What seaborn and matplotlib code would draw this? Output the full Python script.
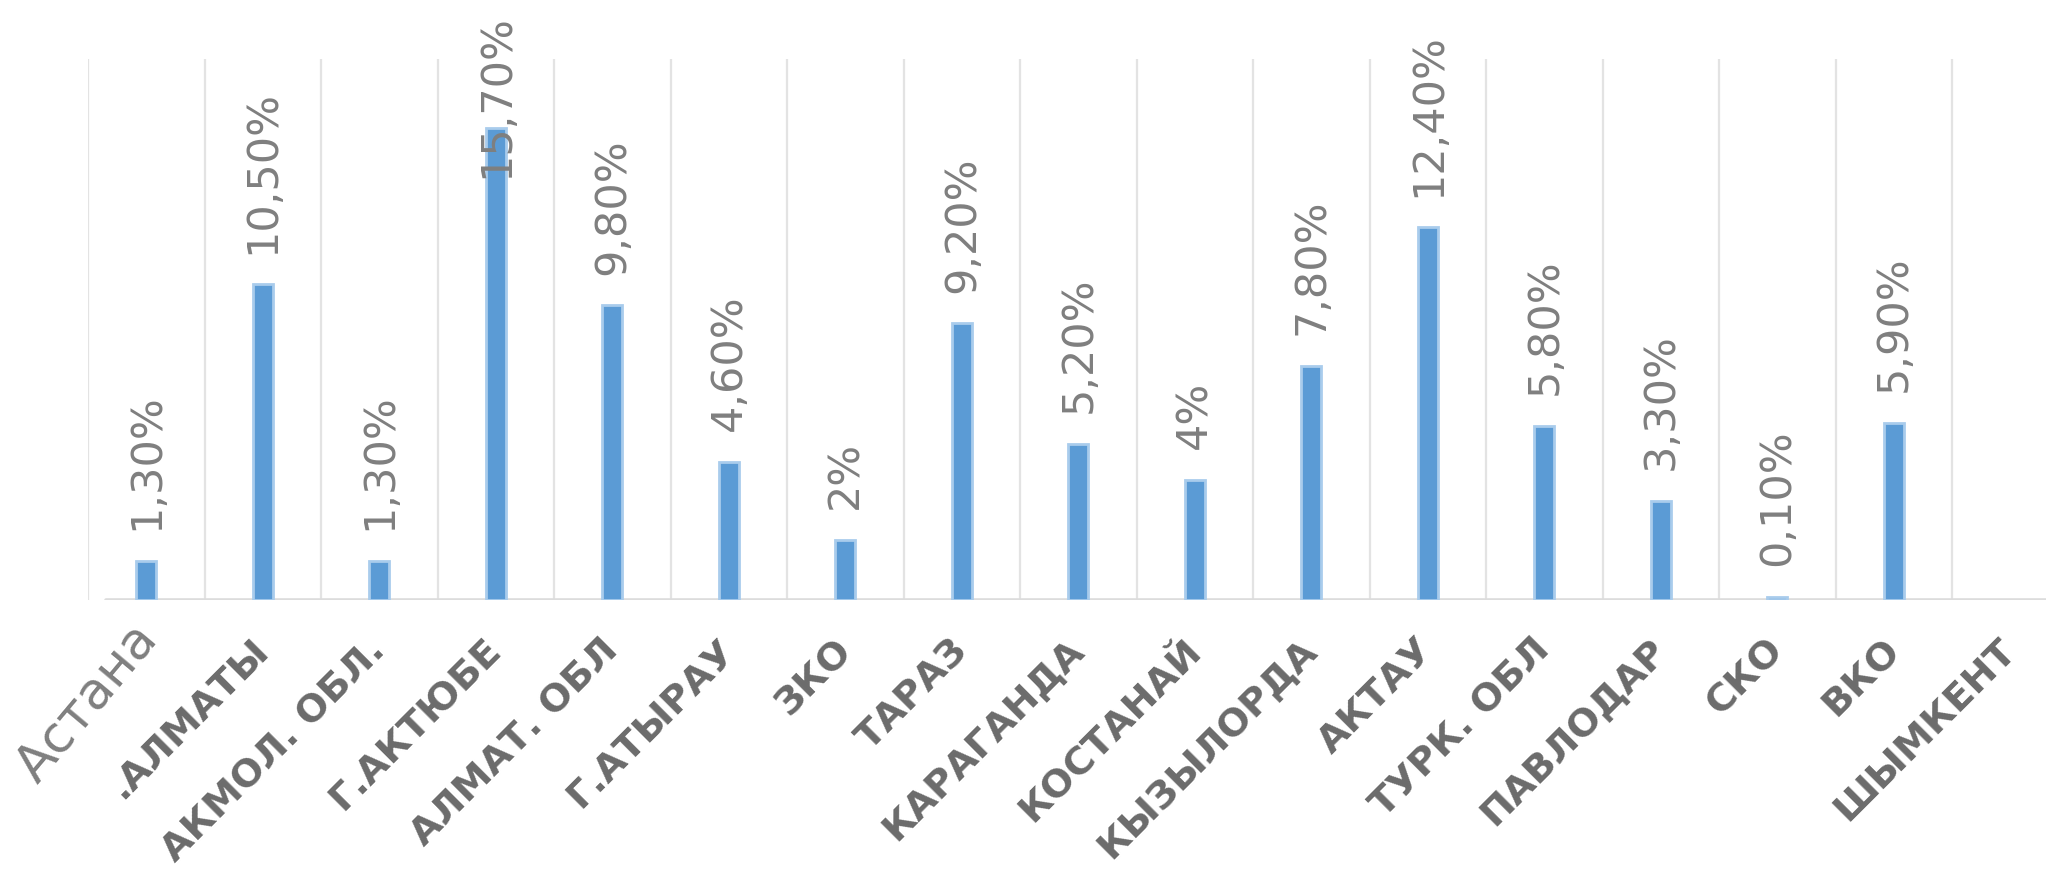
import numpy as np
import pandas as pd
import matplotlib
matplotlib.use("Agg")
import matplotlib.pyplot as plt
import matplotlib.transforms as mtransforms
import seaborn as sns

# ---- data ----
categories = ["Астана", ".АЛМАТЫ", "АКМОЛ. ОБЛ.", "Г.АКТЮБЕ", "АЛМАТ. ОБЛ",
              "Г.АТЫРАУ", "ЗКО", "ТАРАЗ", "КАРАГАНДА", "КОСТАНАЙ",
              "КЫЗЫЛОРДА", "АКТАУ", "ТУРК. ОБЛ", "ПАВЛОДАР", "СКО", "ВКО",
              "ШЫМКЕНТ"]
values = [1.3, 10.5, 1.3, 15.7, 9.8, 4.6, 2.0, 9.2, 5.2, 4.0, 7.8, 12.4,
          5.8, 3.3, 0.1, 5.9]
y_max = 18


def fmt(v):
    if float(v).is_integer():
        return f"{v:.0f}%"
    return f"{v:.2f}%".replace(".", ",")


df = pd.DataFrame({"region": categories[:len(values)], "value": values})

sns.set_style("white")
plt.rcParams["font.family"] = ["DejaVu Sans"]

W, H, DPI = 2046, 876, 100
fig = plt.figure(figsize=(W / DPI, H / DPI), dpi=DPI, facecolor="white")
ax = fig.add_axes([88 / W, 276 / H, 17 * 116.5 / W, 541 / H])

sns.barplot(data=df, x="region", y="value", order=categories,
            color="#5B9BD5", saturation=1, width=0.17,
            edgecolor="#A9CCEC", linewidth=2, errorbar=None, ax=ax,
            zorder=3)

n = len(categories)
ax.set_xlim(-0.5, n - 0.5)
ax.set_ylim(0, y_max)

# category separators
ax.set_xticks(np.arange(-0.5, n, 1), minor=True)
ax.grid(True, which="minor", axis="x", color="#E3E3E3", lw=1.6, zorder=0)
ax.grid(False, which="major")
ax.set_axisbelow(True)
for s in ax.spines.values():
    s.set_visible(False)
ax.set_yticks([])
ax.set_ylabel("")
ax.set_xlabel("")

# baseline
ax.axhline(0, xmin=0.009, color="#DCDCDC", lw=2.6, zorder=2)

# category labels
ax.set_xticks(range(n))
ax.tick_params(which="both", length=0)
ax.tick_params(axis="x", which="major", pad=29)
ax.set_xticklabels([""] + categories[1:], rotation=45, ha="right", va="top",
                   rotation_mode="anchor", fontsize=27.5, fontweight="bold",
                   color="#6B6B6B")
shift = mtransforms.ScaledTranslation(-12 / DPI, 8 / DPI, fig.dpi_scale_trans)
for lab in ax.get_xticklabels():
    lab.set_transform(lab.get_transform() + shift)

ax.annotate(categories[0], xy=(0, 0), xycoords=("data", "axes fraction"),
            xytext=(-12, -10), textcoords="offset points", rotation=50,
            rotation_mode="anchor", ha="right", va="top", fontsize=37,
            color="#7F7F7F", annotation_clip=False)

# data labels
anns = []
for i, v in enumerate(values):
    a = ax.annotate(fmt(v), xy=(i, v), xytext=(0, 22),
                    textcoords="offset points", rotation=90, ha="center",
                    va="bottom", fontsize=31, color="#7F7F7F",
                    annotation_clip=False, zorder=4)
    anns.append(a)

fig.canvas.draw()
renderer = fig.canvas.get_renderer()
limit = H - 14
for a in anns:
    bb = a.get_window_extent(renderer)
    if bb.y1 > limit:
        shift_px = bb.y1 - limit
        x0, y0 = a.xyann
        a.xyann = (x0, y0 - shift_px * 72 / DPI)

fig.savefig("out.png", dpi=DPI, facecolor="white")
